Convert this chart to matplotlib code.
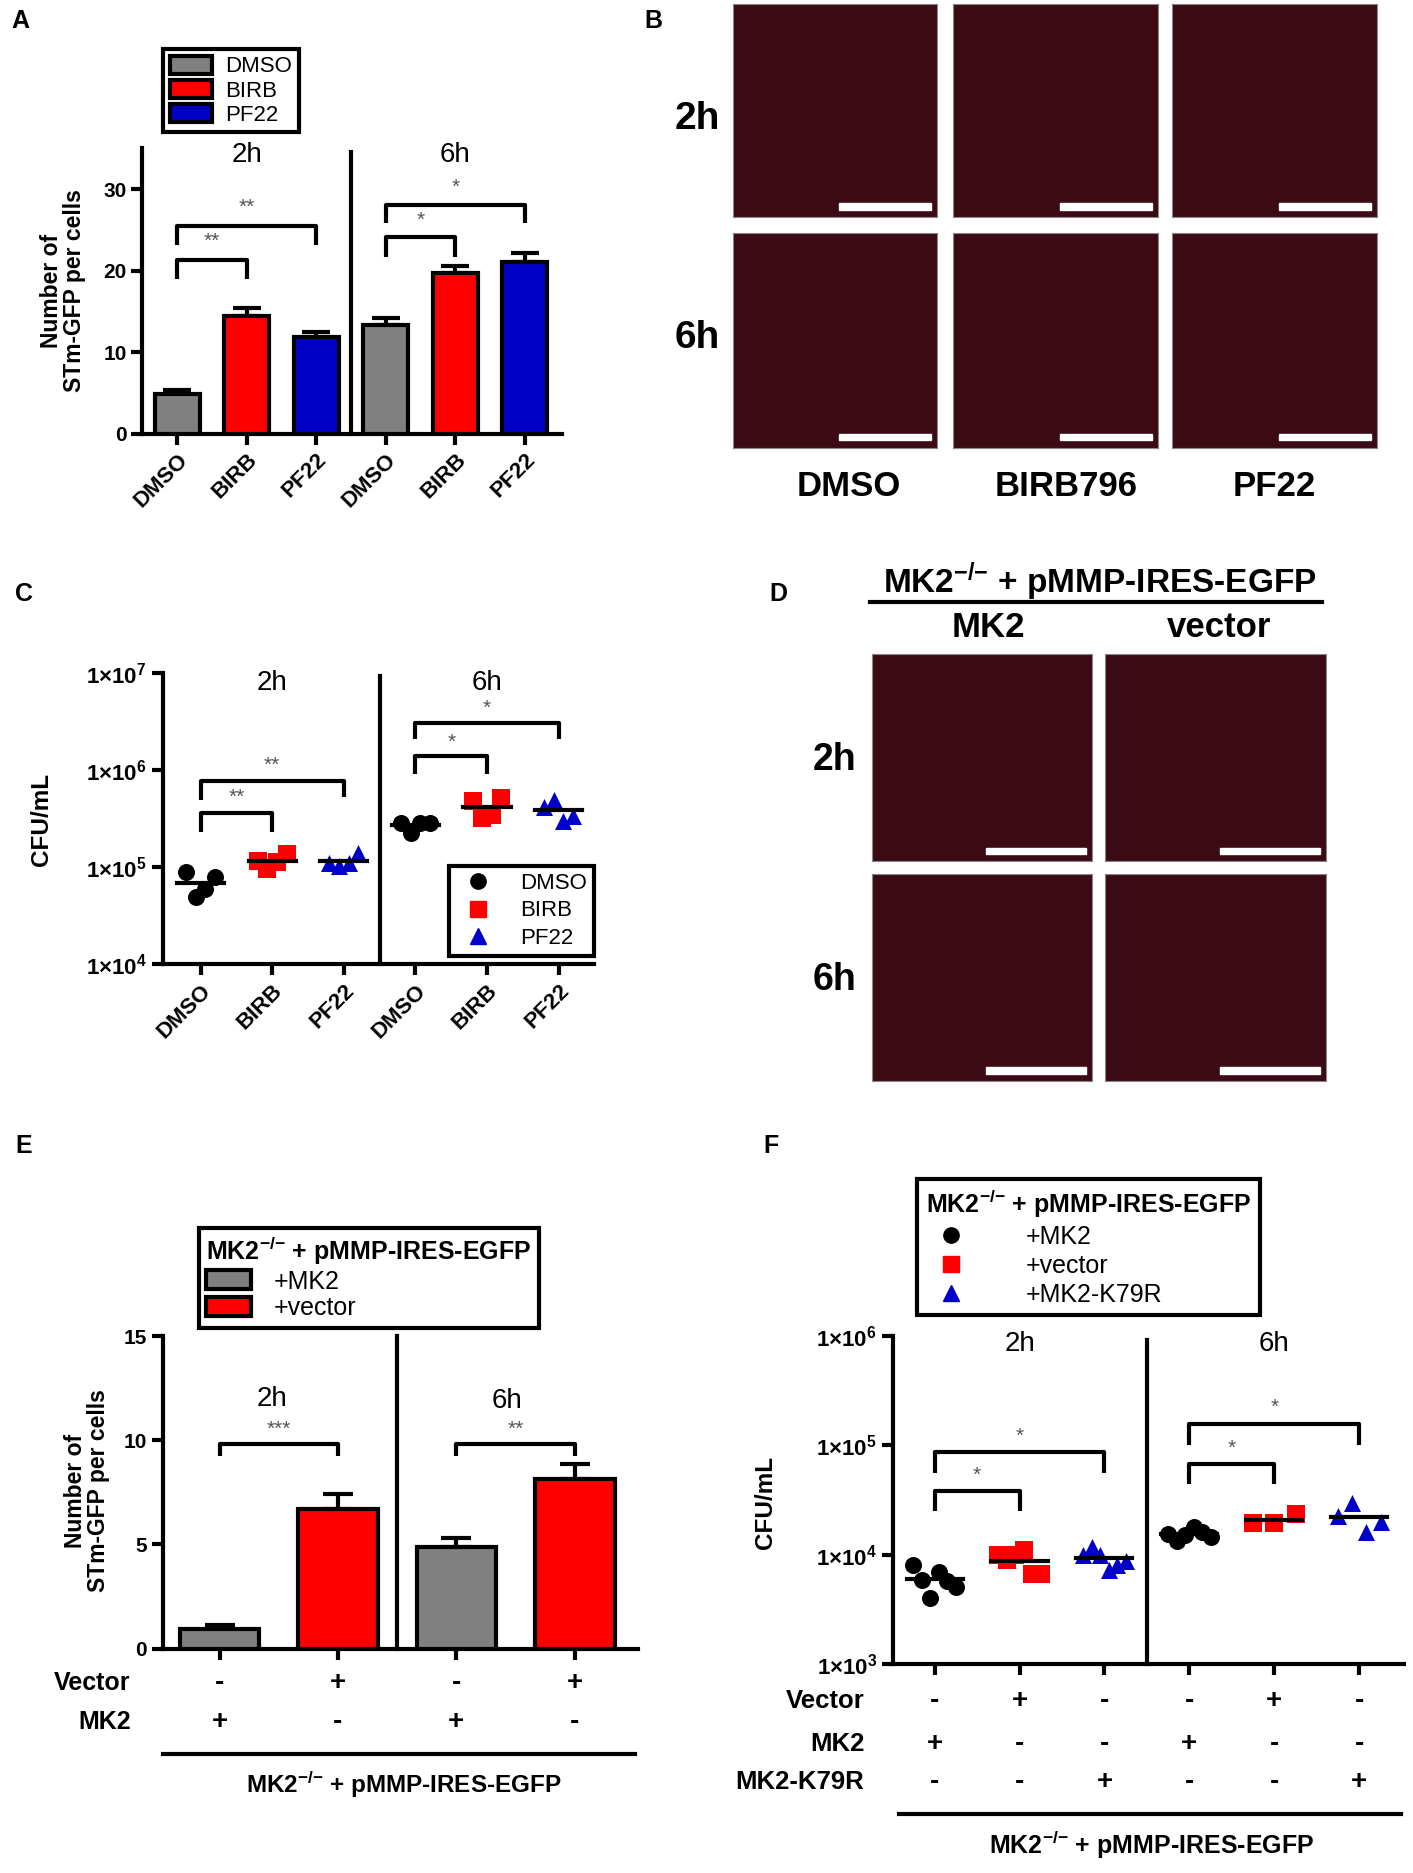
import matplotlib
matplotlib.use('Agg')
import matplotlib.pyplot as plt
import matplotlib.transforms as mtransforms
import numpy as np
from matplotlib.patches import Patch, Rectangle
from matplotlib.lines import Line2D
from matplotlib.ticker import NullLocator

plt.rcParams['font.family'] = ['Liberation Sans', 'DejaVu Sans']
plt.rcParams['mathtext.fontset'] = 'custom'
plt.rcParams['mathtext.rm'] = 'Liberation Sans:bold'
plt.rcParams['mathtext.default'] = 'rm'

# ---- panel A: STm-GFP per cell (bars, mean + SEM) ----
a_groups = ['DMSO', 'BIRB', 'PF22']
a_mean_2h = [4.9, 14.4, 11.9]
a_sem_2h = [0.4, 1.0, 0.6]
a_mean_6h = [13.3, 19.7, 21.1]
a_sem_6h = [0.9, 0.9, 1.1]

# ---- panel C: CFU/mL ----
c_dmso_2h = [8.9e4, 4.9e4, 6.0e4, 8.0e4]
c_birb_2h = [1.17e5, 9.6e4, 1.13e5, 1.37e5]
c_pf22_2h = [1.12e5, 1.04e5, 1.12e5, 1.41e5]
c_dmso_6h = [2.9e5, 2.24e5, 2.9e5, 2.9e5]
c_birb_6h = [4.8e5, 3.2e5, 3.5e5, 5.2e5]
c_pf22_6h = [4.2e5, 5.0e5, 3.0e5, 3.4e5]

# ---- panel E: STm-GFP per cell in MK2-/- cells ----
e_mean = [0.92, 6.7, 4.87, 8.16]
e_sem = [0.23, 0.7, 0.42, 0.69]
e_vector_row = ['-', '+', '-', '+']
e_mk2_row = ['+', '-', '+', '-']

# ---- panel F: CFU/mL in MK2-/- cells ----
f_mk2_2h = [8.1e3, 5.9e3, 4.0e3, 6.9e3, 5.8e3, 5.1e3]
f_vec_2h = [1.0e4, 8.9e3, 9.9e3, 1.1e4, 6.6e3, 6.6e3]
f_k79r_2h = [1.0e4, 1.18e4, 1.0e4, 7.3e3, 8.0e3, 8.7e3]
f_mk2_6h = [1.56e4, 1.34e4, 1.5e4, 1.8e4, 1.6e4, 1.45e4]
f_vec_6h = [1.95e4, 1.95e4, 2.35e4]
f_k79r_6h = [2.26e4, 3.0e4, 1.6e4, 2.0e4]
f_vector_row = ['-', '+', '-', '-', '+', '-']
f_mk2_row = ['+', '-', '-', '+', '-', '-']
f_k79r_row = ['-', '-', '+', '-', '-', '+']

# significance brackets: (x1, x2, bar y, left leg end, right leg end, stars, star y)
a_brackets = [(0, 1, 21.3, 19.0, 19.0, '**', 22.4), (0, 2, 25.5, 23.2, 23.2, '**', 26.6),
              (3, 4, 24.1, 21.7, 21.7, '*', 25.0), (3, 5, 28.1, 25.8, 25.8, '*', 29.0)]
c_brackets = [(0, 1, 5.565, 5.36, 5.36, '**', 5.62), (0, 2, 5.89, 5.70, 5.73, '**', 5.95),
              (3, 4, 6.15, 5.96, 5.96, '*', 6.19), (3, 5, 6.49, 6.32, 6.32, '*', 6.54)]
e_brackets = [(0, 1, 9.8, 9.24, 9.24, '***', 10.05), (2, 3, 9.8, 9.24, 9.24, '**', 10.05)]
f_brackets = [(0, 1, 4.585, 4.40, 4.40, '*', 4.64), (0, 2, 4.94, 4.75, 4.75, '*', 5.0),
              (3, 4, 4.83, 4.65, 4.65, '*', 4.89), (3, 5, 5.20, 5.00, 5.00, '*', 5.26)]

GRAY, RED, BLUE = '#808080', '#ff0000', '#0000c8'
SUBTITLE = 'MK2$^{{-}/{-}}$ + pMMP-IRES-EGFP'
LW = 3.0
W, H = 1190, 1577


def box(x0, y0, x1, y1):
    return [x0 / W, 1 - y1 / H, (x1 - x0) / W, (y1 - y0) / H]


def fx(x):
    return x / W


def fy(y):
    return 1 - y / H


fig = plt.figure(figsize=(14.13, 18.73), dpi=100)


def style(ax):
    for s in ['top', 'right']:
        ax.spines[s].set_visible(False)
    for s in ['left', 'bottom']:
        ax.spines[s].set_linewidth(LW)
    ax.tick_params(width=LW, length=8, direction='out')
    for lab in ax.get_yticklabels():
        lab.set_fontweight('bold')


def brackets(ax, items, log=False):
    for x1, x2, y, l1, l2, txt, ty in items:
        conv = (lambda v: 10 ** v) if log else (lambda v: v)
        ax.plot([x1, x1, x2, x2], [conv(l1), conv(y), conv(y), conv(l2)],
                color='black', lw=LW, solid_capstyle='butt', zorder=4)
        ax.text((x1 + x2) / 2, conv(ty), txt, ha='center', va='bottom',
                fontsize=15, color='#555555')


def divider(ax, x, y0, y1):
    ax.plot([x, x], [y0, y1], color='black', lw=LW, clip_on=False, zorder=4)


def micro(x0, y0, x1, y1):
    ax = fig.add_axes(box(x0, y0, x1, y1))
    ax.set_facecolor('#3c0a14')
    ax.set_xticks([])
    ax.set_yticks([])
    for s in ax.spines.values():
        s.set_color('#888888')
        s.set_linewidth(0.8)
    ax.add_patch(Rectangle((0.52, 0.035), 0.45, 0.03, transform=ax.transAxes,
                           color='white', zorder=3))
    return ax


def scatter_group(ax, x, vals, marker, color, spread):
    n = len(vals)
    offs = np.linspace(-spread, spread, n) if n > 1 else np.zeros(1)
    ax.scatter(x + offs, vals, marker=marker, s=150, color=color, zorder=3,
               clip_on=False, linewidths=0)
    m = np.mean(vals)
    ax.plot([x - 0.33, x + 0.33], [m, m], color='black', lw=LW, zorder=4)


# panel letters
for letter, (px, py) in {'A': (10, 18), 'B': (543, 18), 'C': (13, 500), 'D': (648, 500),
                         'E': (13, 965), 'F': (643, 965)}.items():
    fig.text(fx(px), fy(py), letter, fontsize=18, fontweight='bold', ha='left', va='center')

# ================= A =================
axA = fig.add_axes(box(120, 125, 473, 365))
xa = np.arange(6)
a_means = a_mean_2h + a_mean_6h
a_sems = a_sem_2h + a_sem_6h
a_colors = [GRAY, RED, BLUE] * 2
axA.bar(xa, a_means, width=0.65, color=a_colors, edgecolor='black', linewidth=LW, zorder=3)
axA.errorbar(xa, a_means, yerr=[np.zeros(6), a_sems], fmt='none', ecolor='black',
             elinewidth=LW, capsize=10, capthick=LW, zorder=2)
axA.set_xlim(-0.5, 5.53)
axA.set_ylim(0, 35)
axA.set_yticks([0, 10, 20, 30])
axA.set_xticks(xa)
axA.set_xticklabels(a_groups * 2, rotation=45, ha='right', rotation_mode='anchor',
                    fontsize=16, fontweight='bold')
axA.tick_params(axis='y', labelsize=15)
style(axA)
divider(axA, 2.5, 0, 34.6)
brackets(axA, a_brackets)
axA.text(1, 34.2, '2h', ha='center', va='center', fontsize=20)
axA.text(4, 34.2, '6h', ha='center', va='center', fontsize=20)
fig.text(fx(53), fy(245), 'Number of\nSTm-GFP per cells', rotation=90, ha='center',
         va='center', fontsize=16.5, fontweight='bold', linespacing=1.0)
legA = fig.legend([Patch(facecolor=c, edgecolor='black', linewidth=LW) for c in [GRAY, RED, BLUE]],
                  a_groups, loc='upper left', bbox_to_anchor=(fx(128), fy(32)), fontsize=16,
                  frameon=True, fancybox=False, edgecolor='black', framealpha=1,
                  borderpad=0.3, labelspacing=0.12, handlelength=1.9, handleheight=0.85,
                  handletextpad=0.6)
legA.get_frame().set_linewidth(LW)

# ================= B =================
b_cols = [(617, 789), (803, 975), (987, 1160)]
b_rows = [(3, 183), (196, 377)]
for (ry0, ry1) in b_rows:
    for (cx0, cx1) in b_cols:
        micro(cx0, ry0, cx1, ry1)
for lab, ypix in [('2h', 100), ('6h', 285)]:
    fig.text(fx(587), fy(ypix), lab, fontsize=28, fontweight='bold', ha='center', va='center')
for lab, xpix in [('DMSO', 715), ('BIRB796', 898), ('PF22', 1073)]:
    fig.text(fx(xpix), fy(410), lab, fontsize=25, fontweight='bold', ha='center', va='center')

# ================= C =================
axC = fig.add_axes(box(137, 567, 500, 812))
axC.set_yscale('log')
axC.set_xlim(-0.53, 5.49)
axC.set_ylim(1e4, 1e7)
c_sets = [c_dmso_2h, c_birb_2h, c_pf22_2h, c_dmso_6h, c_birb_6h, c_pf22_6h]
c_marks = [('o', 'black'), ('s', RED), ('^', BLUE)] * 2
for i, (vals, (mk, col)) in enumerate(zip(c_sets, c_marks)):
    scatter_group(axC, i, vals, mk, col, 0.2)
axC.set_yticks([1e4, 1e5, 1e6, 1e7])
axC.set_yticklabels(['$1{\\times}10^{%d}$' % k for k in [4, 5, 6, 7]])
axC.yaxis.set_minor_locator(NullLocator())
axC.set_xticks(range(6))
axC.set_xticklabels(a_groups * 2, rotation=45, ha='right', rotation_mode='anchor',
                    fontsize=16, fontweight='bold')
axC.tick_params(axis='y', labelsize=16)
style(axC)
divider(axC, 2.5, 1e4, 9.5e6)
brackets(axC, c_brackets, log=True)
axC.text(1, 10 ** 6.9, '2h', ha='center', va='center', fontsize=20)
axC.text(4, 10 ** 6.9, '6h', ha='center', va='center', fontsize=20)
fig.text(fx(35), fy(690), 'CFU/mL', rotation=90, ha='center', va='center',
         fontsize=17.5, fontweight='bold')
legC = axC.legend([Line2D([], [], marker=mk, color=col, ls='none', markersize=11)
                   for mk, col in c_marks[:3]], a_groups, loc='lower right',
                  bbox_to_anchor=(1.0, 0.03), borderaxespad=0, fontsize=16, frameon=True,
                  fancybox=False, edgecolor='black', framealpha=1, borderpad=0.3,
                  labelspacing=0.3, handletextpad=0.9)
legC.get_frame().set_linewidth(LW)

# ================= D =================
fig.text(fx(926), fy(490), SUBTITLE, fontsize=24, fontweight='bold', ha='center', va='center')
fig.add_artist(Line2D([fx(733), fx(1113)], [fy(507), fy(507)], color='black', lw=LW))
fig.text(fx(832), fy(528), 'MK2', fontsize=25, fontweight='bold', ha='center', va='center')
fig.text(fx(1027), fy(528), 'vector', fontsize=25, fontweight='bold', ha='center', va='center')
for (ry0, ry1) in [(551, 725), (736, 910)]:
    for (cx0, cx1) in [(734, 920), (931, 1117)]:
        micro(cx0, ry0, cx1, ry1)
for lab, ypix in [('2h', 640), ('6h', 825)]:
    fig.text(fx(703), fy(ypix), lab, fontsize=27, fontweight='bold', ha='center', va='center')

# ================= E =================
axE = fig.add_axes(box(137, 1125, 537, 1388))
xe = np.arange(4)
axE.bar(xe, e_mean, width=0.67, color=[GRAY, RED, GRAY, RED], edgecolor='black',
        linewidth=LW, zorder=3)
axE.errorbar(xe, e_mean, yerr=[np.zeros(4), e_sem], fmt='none', ecolor='black',
             elinewidth=LW, capsize=11, capthick=LW, zorder=2)
axE.set_xlim(-0.48, 3.53)
axE.set_ylim(0, 15)
axE.set_yticks([0, 5, 10, 15])
axE.set_xticks(xe)
axE.set_xticklabels([])
axE.tick_params(axis='y', labelsize=15)
style(axE)
divider(axE, 1.5, 0, 15)
brackets(axE, e_brackets)
axE.text(0.44, 12.0, '2h', ha='center', va='center', fontsize=20)
axE.text(2.43, 11.9, '6h', ha='center', va='center', fontsize=20)
fig.text(fx(73), fy(1255), 'Number of\nSTm-GFP per cells', rotation=90, ha='center',
         va='center', fontsize=16.5, fontweight='bold', linespacing=1.0)
trE = mtransforms.blended_transform_factory(axE.transData, fig.transFigure)
for row, ypix, name in [(e_vector_row, 1417, 'Vector'), (e_mk2_row, 1450, 'MK2')]:
    fig.text(fx(110), fy(ypix), name, fontsize=18, fontweight='bold', ha='right', va='center')
    for i, sgn in enumerate(row):
        axE.text(i, fy(ypix), sgn, transform=trE, fontsize=20, fontweight='bold',
                 ha='center', va='center')
fig.add_artist(Line2D([fx(137), fx(535)], [fy(1477), fy(1477)], color='black', lw=LW))
fig.text(fx(340), fy(1503), SUBTITLE, fontsize=17.5, fontweight='bold',
         ha='center', va='center')
legE = fig.legend([Patch(facecolor=c, edgecolor='black', linewidth=LW) for c in [GRAY, RED]],
                  ['+MK2', '+vector'], loc='upper left', bbox_to_anchor=(fx(157), fy(1023)),
                  fontsize=18, title=SUBTITLE,
                  title_fontproperties={'weight': 'bold', 'size': 18}, alignment='left',
                  frameon=True, fancybox=False, edgecolor='black', framealpha=1,
                  borderpad=0.3, labelspacing=0.1, handlelength=1.8, handleheight=0.8,
                  handletextpad=0.9)
legE.get_frame().set_linewidth(LW)

# ================= F =================
axF = fig.add_axes(box(752, 1125, 1182, 1401))
axF.set_yscale('log')
axF.set_xlim(-0.49, 5.52)
axF.set_ylim(1e3, 1e6)
f_sets = [f_mk2_2h, f_vec_2h, f_k79r_2h, f_mk2_6h, f_vec_6h, f_k79r_6h]
for i, (vals, (mk, col)) in enumerate(zip(f_sets, c_marks)):
    scatter_group(axF, i, vals, mk, col, 0.25)
axF.set_yticks([1e3, 1e4, 1e5, 1e6])
axF.set_yticklabels(['$1{\\times}10^{%d}$' % k for k in [3, 4, 5, 6]])
axF.yaxis.set_minor_locator(NullLocator())
axF.set_xticks(range(6))
axF.set_xticklabels([])
axF.tick_params(axis='y', labelsize=16)
style(axF)
divider(axF, 2.5, 1e3, 9.3e5)
brackets(axF, f_brackets, log=True)
axF.text(1, 10 ** 5.93, '2h', ha='center', va='center', fontsize=20)
axF.text(4, 10 ** 5.93, '6h', ha='center', va='center', fontsize=20)
fig.text(fx(645), fy(1265), 'CFU/mL', rotation=90, ha='center', va='center',
         fontsize=17.5, fontweight='bold')
trF = mtransforms.blended_transform_factory(axF.transData, fig.transFigure)
for row, ypix, name in [(f_vector_row, 1432, 'Vector'), (f_mk2_row, 1468, 'MK2'),
                        (f_k79r_row, 1500, 'MK2-K79R')]:
    fig.text(fx(728), fy(ypix), name, fontsize=18.5, fontweight='bold', ha='right', va='center')
    for i, sgn in enumerate(row):
        axF.text(i, fy(ypix), sgn, transform=trF, fontsize=20, fontweight='bold',
                 ha='center', va='center')
fig.add_artist(Line2D([fx(757), fx(1180)], [fy(1527), fy(1527)], color='black', lw=LW))
fig.text(fx(970), fy(1553), SUBTITLE, fontsize=18, fontweight='bold',
         ha='center', va='center')
legF = fig.legend([Line2D([], [], marker=mk, color=col, ls='none', markersize=11)
                   for mk, col in c_marks[:3]], ['+MK2', '+vector', '+MK2-K79R'],
                  loc='upper left', bbox_to_anchor=(fx(762), fy(982)), fontsize=18,
                  title=SUBTITLE,
                  title_fontproperties={'weight': 'bold', 'size': 18}, alignment='left',
                  frameon=True, fancybox=False, edgecolor='black', framealpha=1,
                  borderpad=0.35, labelspacing=0.2, handletextpad=2.0)
legF.get_frame().set_linewidth(LW)

fig.savefig('out.png', dpi=100, facecolor='white')
